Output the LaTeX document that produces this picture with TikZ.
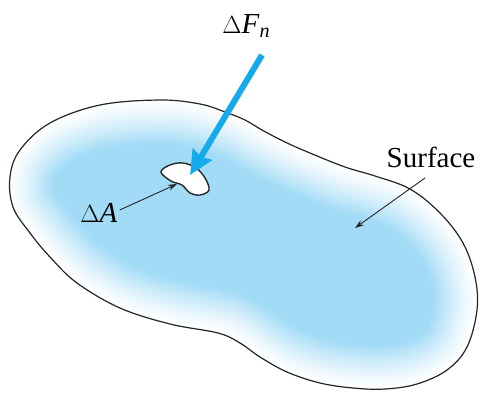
\documentclass[tikz,border=0pt]{standalone}
\usepackage{fontspec}
\setmainfont{Liberation Serif}
\usetikzlibrary{arrows.meta}
\definecolor{fillblue}{RGB}{162,219,246}
\definecolor{arrowblue}{RGB}{20,170,235}
\tikzset{
  lbl/.style={font=\fontsize{29}{34}\selectfont, inner sep=0pt},
  pointer/.style={draw=black!85, line width=0.9pt, -{Stealth[length=9pt,width=6pt]}},
  force/.style={draw=arrowblue, line width=6pt, -{Stealth[length=24pt,width=22pt,inset=3pt]}},
  outline/.style={draw=black!85, line width=1.2pt}
}
\begin{document}
\begin{tikzpicture}[x=1pt,y=-1pt]
\useasboundingbox (0,0) rectangle (488,392);
\def\surfpath{plot[smooth cycle, tension=0.6] coordinates {(10,177) (20,150) (50,123) (100,105) (160,100) (200,104) (225,112) (245,120) (262,130) (285,142) (310,153) (345,167) (375,176) (410,189) (440,213) (463,243) (475,277) (477,310) (467,347) (447,370) (417,384) (385,389) (353,388) (320,383) (287,372) (260,357) (240,343) (218,333) (170,324) (120,308) (77,283) (50,257) (30,233) (13,207)}}
\begin{scope}
  \clip \surfpath;
  \fill[fillblue] (0,0) rectangle (488,392);
  \foreach \w in {90,88,...,2} {
    \pgfmathsetmacro{\p}{100*(\w/90)^1.3}
    \draw[draw=fillblue!\p!white, line width=\w pt, line join=round] \surfpath;
  }
\end{scope}
\draw[outline] \surfpath;
% small area
\draw[outline, line width=1.4pt, fill=white] plot[smooth cycle, tension=0.6] coordinates {(161,172) (170,165) (183,163) (196,168) (205,178) (209,190) (200,195) (190,193) (182,185) (171,181)};
\coordinate (holetip) at (190,175);
\coordinate (holeedge) at (177,184);
\coordinate (surfin) at (355,228);
\coordinate (surfout) at (425,178);
\coordinate (forcestart) at (262,55);
% labels
\node[lbl] (dF) at (246,26) {$\Delta$\textit{F}\raisebox{-5pt}{\fontsize{20}{24}\selectfont\textit{n}}};
\node[lbl] (dA) at (99,213) {$\Delta$\textit{A}};
\node[lbl] (surf) at (431,157) {Surface};
% connectors
\draw[force] (forcestart) -- (holetip);
\draw[pointer] (dA.east) ++(2,-3) -- (holeedge);
\draw[pointer] (surfout) -- (surfin);
\end{tikzpicture}
\end{document}
